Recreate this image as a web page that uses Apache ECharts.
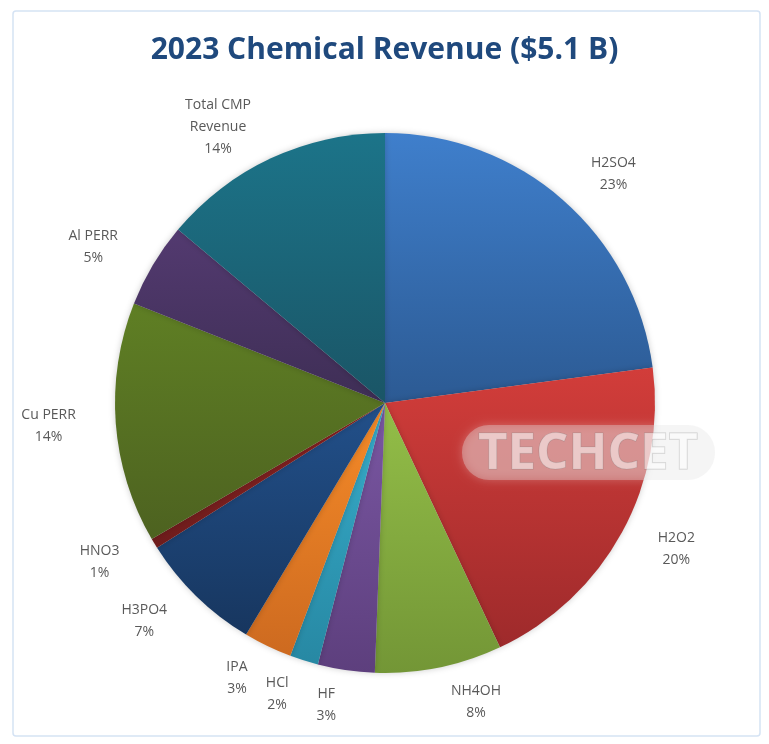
<!DOCTYPE html>
<html>
<head>
<meta charset="utf-8">
<script src="https://cdn.jsdelivr.net/npm/echarts@6/dist/echarts.min.js"></script>
<style>
  html, body { margin: 0; padding: 0; background: #fff; }
  #chart { width: 769px; height: 744px; }
</style>
</head>
<body>
<div id="chart"></div>
<script>
// 数据（按饼图顺时针顺序，从12点开始）
var categories = ['H2SO4', 'H2O2', 'NH4OH', 'HF', 'HCl', 'IPA', 'H3PO4', 'HNO3', 'Cu PERR', 'Al PERR', 'Total CMP Revenue'];
var shares = [22.9, 20.1, 7.6, 3.4, 1.7, 2.9, 7.4, 0.6, 14.4, 5.1, 13.9];

// 每块的渐变颜色（上 -> 下）
var topColors = ['#3F7FCC', '#D23D3A', '#93BE48', '#7A57A3', '#37ADCB', '#F68B28', '#22508A', '#8A2222', '#5F7F24', '#533A70', '#1C7489'];
var bottomColors = ['#2C5A93', '#9E2A2B', '#739636', '#5D3F7D', '#2788A3', '#CD6A20', '#17365F', '#6E1C1C', '#4D6220', '#3E2E55', '#1A5566'];

var chart = echarts.init(document.getElementById('chart'));

var pieData = categories.map(function (name, i) {
    return {
        name: name,
        value: shares[i],
        itemStyle: {
            color: new echarts.graphic.LinearGradient(0, 0, 0, 1, [
                { offset: 0, color: topColors[i] },
                { offset: 1, color: bottomColors[i] }
            ])
        }
    };
});

// 名字太长就在最后一个空格处换行
function wrapName(name) {
    return name.length > 12 ? name.replace(/ (?=\S+$)/, '\n') : name;
}

var option = {
    backgroundColor: '#fff',
    animation: false,
    title: {
        text: '2023 Chemical Revenue ($5.1 B)',
        left: 'center',
        top: 30,
        textStyle: {
            fontFamily: 'Open Sans',
            fontWeight: 'bold',
            fontSize: 30,
            color: '#1F497D'
        }
    },
    graphic: [
        { // 外框
            type: 'rect',
            z: -10,
            shape: { x: 13, y: 11, width: 747, height: 725, r: 3 },
            style: { fill: 'none', stroke: '#D5E3F4', lineWidth: 1.5 }
        },
        { // 水印底
            type: 'rect',
            z: 100,
            shape: { x: 462, y: 425, width: 253, height: 55, r: 27 },
            style: {
                fill: 'rgba(225,225,225,0.35)',
                shadowBlur: 10,
                shadowColor: 'rgba(255,255,255,0.7)'
            }
        },
        { // 水印文字
            type: 'text',
            z: 101,
            x: 588,
            y: 454,
            style: {
                text: 'TECHCET',
                font: 'bold 51px "Open Sans"',
                align: 'center',
                verticalAlign: 'middle',
                fill: 'rgba(255,255,255,0.5)',
                stroke: 'rgba(110,110,110,0.3)',
                lineWidth: 1
            }
        }
    ],
    series: [{
        name: '2023 Chemical Revenue',
        type: 'pie',
        center: [385, 403],
        radius: 270,
        startAngle: 90,
        clockwise: true,
        avoidLabelOverlap: false,
        itemStyle: {
            shadowBlur: 6,
            shadowColor: 'rgba(0,0,0,0.2)'
        },
        label: {
            show: true,
            position: 'outside',
            formatter: function (p) {
                return '{a|' + wrapName(p.name) + '}\n{a|' + Math.round(p.percent) + '%}';
            },
            rich: {
                a: {
                    align: 'center',
                    fontFamily: 'Open Sans',
                    fontSize: 14,
                    lineHeight: 22,
                    color: '#595959'
                }
            }
        },
        labelLine: { show: false, length: 35, length2: 0 },
        emphasis: { disabled: true },
        data: pieData
    }]
};

chart.setOption(option);
</script>
</body>
</html>
